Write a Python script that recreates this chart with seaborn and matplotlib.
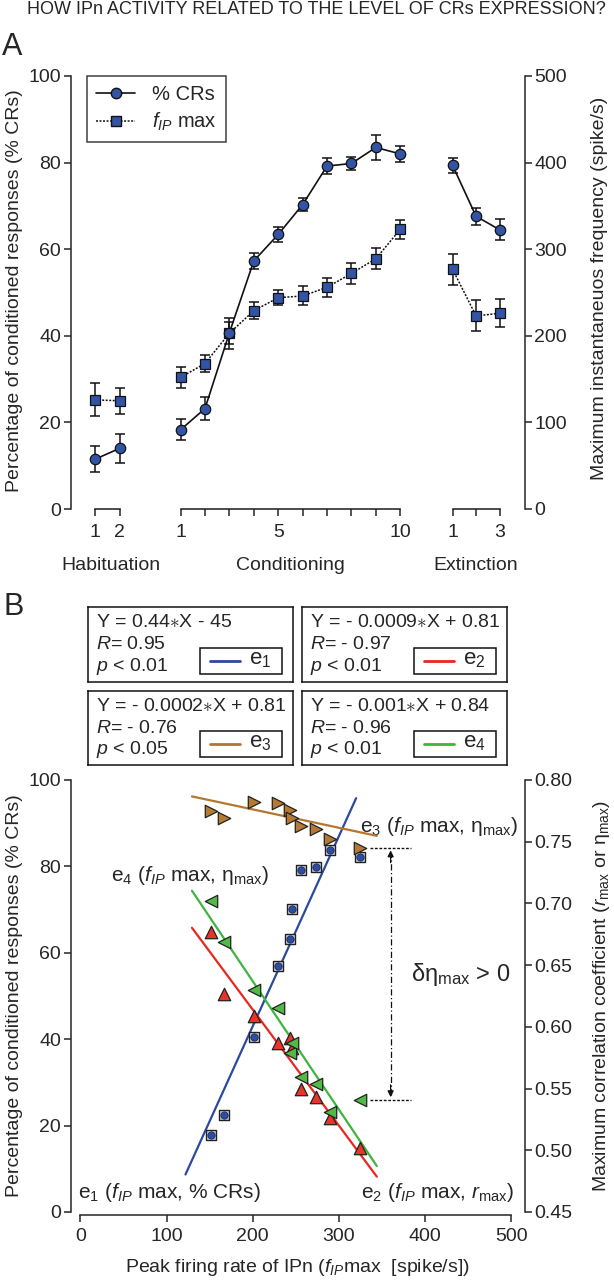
import numpy as np
import pandas as pd
import matplotlib
matplotlib.use('Agg')
import matplotlib.pyplot as plt
import matplotlib.transforms as mtransforms
from matplotlib.patches import Rectangle
from matplotlib.lines import Line2D
import seaborn as sns

sns.set_theme(style='ticks')
plt.rcParams['font.family'] = ['Liberation Sans', 'DejaVu Sans']
plt.rcParams['mathtext.fontset'] = 'custom'
plt.rcParams['mathtext.rm'] = 'Liberation Sans'
plt.rcParams['mathtext.it'] = 'Liberation Sans:italic'
plt.rcParams['mathtext.bf'] = 'Liberation Sans:bold'
plt.rcParams['mathtext.fallback'] = 'cm'
plt.rcParams['axes.linewidth'] = 1.1

# ---------------- Panel A data ----------------
hab_sessions = [1, 2]
cond_sessions = [1, 2, 3, 4, 5, 6, 7, 8, 9, 10]
ext_sessions = [1, 2, 3]

hab_cr = [11.5, 14.0]
hab_cr_err = [3.0, 3.4]
cond_cr = [18.3, 23.2, 40.7, 57.3, 63.4, 70.3, 79.2, 79.8, 83.5, 82.0]
cond_cr_err = [2.4, 2.7, 2.5, 1.9, 1.7, 1.5, 1.8, 1.5, 2.8, 1.8]
ext_cr = [79.4, 67.6, 64.5]
ext_cr_err = [1.7, 2.0, 2.4]

hab_fip = [126, 125]
hab_fip_err = [19, 15]
cond_fip = [152, 168, 203, 229, 244, 246, 256, 272, 289, 323]
cond_fip_err = [12, 10, 18, 10, 9, 11, 11, 12, 12, 11]
ext_fip = [277, 223, 226]
ext_fip_err = [18, 18, 16]

group_names = ['Habituation', 'Conditioning', 'Extinction']
hab_ticklabels = ['1', '2']
cond_ticklabels = ['1', '', '', '', '5', '', '', '', '', '10']
ext_ticklabels = ['1', '', '3']

# ---------------- Panel B data ----------------
b_fip = [152, 167, 201, 229, 243, 245, 256, 273, 290, 324]
b_cr = [17.8, 22.5, 40.5, 56.9, 63.2, 70.1, 79.1, 79.8, 83.7, 82.1]
b_rmax = [0.677, 0.627, 0.609, 0.587, 0.591, 0.583, 0.550, 0.543, 0.526, 0.502]
b_eta_e4 = [0.702, 0.669, 0.630, 0.615, 0.579, 0.587, 0.559, 0.554, 0.531, 0.541]
b_eta_e3 = [0.775, 0.769, 0.782, 0.781, 0.776, 0.769, 0.763, 0.760, 0.752, 0.745]

# regression lines (slope, intercept, x-range) as drawn
fit_names = ['e1', 'e2', 'e3', 'e4']
fit_slope = [0.44, -0.00094, -0.000149, -0.00104]
fit_icept = [-45.0, 0.802, 0.806, 0.845]
fit_xmin = [122, 129.5, 129.5, 129.5]
fit_xmax = [320, 344, 344, 344]

eq_lines = [
    ['Y = 0.44$\\ast$X - 45', '$\\mathit{R}$= 0.95', '$\\mathit{p}$ < 0.01'],
    ['Y = - 0.0009$\\ast$X + 0.81', '$\\mathit{R}$= - 0.97', '$\\mathit{p}$ < 0.01'],
    ['Y = - 0.0002$\\ast$X + 0.81', '$\\mathit{R}$= - 0.76', '$\\mathit{p}$ < 0.05'],
    ['Y = - 0.001$\\ast$X + 0.84', '$\\mathit{R}$= - 0.96', '$\\mathit{p}$ < 0.01'],
]
eq_labels = ['e$_1$', 'e$_2$', 'e$_3$', 'e$_4$']

BLUE = '#3353a5'
BLUE2 = '#2c4da0'
RED = '#e8342a'
GREEN = '#52b947'
BROWN = '#b47a34'
LRED = '#e8281e'
LGREEN = '#3fb43f'
LBROWN = '#b5762e'
LBLUE = '#2b4a9e'
line_colors = [LBLUE, LRED, LBROWN, LGREEN]

W, H = 614, 1280
fig = plt.figure(figsize=(W / 100, H / 100), dpi=100)


def fpos(x0, y0, x1, y1):
    return [x0 / W, 1 - y1 / H, (x1 - x0) / W, (y1 - y0) / H]


FS = 14       # ticks / axis labels
FT = 15       # annotations
FE = 14       # equation boxes
TL = 5.2      # tick length (pt)
MS_C = 7.5    # circle marker size panel A
MS_S = 7.6    # square marker size panel A

fig.text(316 / W, 1 - 9.5 / H, 'HOW IPn ACTIVITY RELATED TO THE LEVEL OF CRs EXPRESSION?',
         ha='center', va='center', fontsize=13)
fig.text(2 / W, 1 - 47 / H, 'A', ha='left', va='center', fontsize=22)
fig.text(3 / W, 1 - 607 / H, 'B', ha='left', va='center', fontsize=22)

# ================= Panel A =================
axA = fig.add_axes(fpos(70.5, 76, 525, 509))
axA2 = axA.twinx()
axA.set_zorder(axA2.get_zorder() + 1)
axA.patch.set_visible(False)

hab_x = np.array(hab_sessions) - 1.0
cond_x = 3.5 + (np.array(cond_sessions) - 1.0)
ext_x = 14.64 + (np.array(ext_sessions) - 1.0) * 0.965

groups = [
    (hab_x, hab_cr, hab_cr_err, hab_fip, hab_fip_err),
    (cond_x, cond_cr, cond_cr_err, cond_fip, cond_fip_err),
    (ext_x, ext_cr, ext_cr_err, ext_fip, ext_fip_err),
]

for gx, cr, cre, fp, fpe in groups:
    axA2.errorbar(gx, fp, yerr=fpe, fmt='none', ecolor='#111111', elinewidth=1.1,
                  capsize=3.8, capthick=1.1, zorder=2)
    sns.lineplot(x=gx, y=fp, ax=axA2, color='#111111', linestyle=(0, (1.3, 1.0)), lw=1.1,
                 marker='s', markersize=MS_S, markerfacecolor=BLUE, markeredgecolor='#111111',
                 markeredgewidth=0.9, zorder=3)
    axA.errorbar(gx, cr, yerr=cre, fmt='none', ecolor='#111111', elinewidth=1.1,
                 capsize=3.8, capthick=1.1, zorder=2)
    sns.lineplot(x=gx, y=cr, ax=axA, color='#111111', linestyle='-', lw=1.2,
                 marker='o', markersize=MS_C, markerfacecolor=BLUE, markeredgecolor='#111111',
                 markeredgewidth=0.9, zorder=3)

xlimA = (-1.01, 17.61)
axA.set_xlim(*xlimA)
axA2.set_xlim(*xlimA)
axA.set_ylim(0, 100)
axA2.set_ylim(0, 500)

all_x = np.concatenate([hab_x, cond_x, ext_x])
all_lab = hab_ticklabels + cond_ticklabels + ext_ticklabels
axA.set_xticks(all_x)
axA.set_xticklabels(all_lab)
axA.set_yticks([0, 20, 40, 60, 80, 100])
axA2.set_yticks([0, 100, 200, 300, 400, 500])
for sp in ['top', 'bottom']:
    axA.spines[sp].set_visible(False)
    axA2.spines[sp].set_visible(False)
axA.spines['right'].set_visible(False)
axA2.spines['left'].set_visible(False)
axA2.spines['right'].set_linewidth(1.1)
axA.tick_params(axis='y', direction='out', length=TL, width=1.1, pad=1.5, labelsize=FS)
axA.tick_params(axis='x', direction='out', length=TL, width=1.1, pad=5.5, labelsize=FS)
axA2.tick_params(axis='y', direction='out', length=TL, width=1.1, pad=1.5, labelsize=FS)
axA2.tick_params(axis='x', bottom=False, labelbottom=False)

# group brackets
for gx in [hab_x, cond_x, ext_x]:
    axA.plot([gx[0], gx[-1]], [0, 0], color='k', lw=1.1, clip_on=False, zorder=5,
             solid_capstyle='projecting')

trA = mtransforms.blended_transform_factory(axA.transData, axA.transAxes)
for gx, name in zip([hab_x, cond_x, ext_x], group_names):
    axA.text(gx.mean() + (0.15 if name == 'Habituation' else 0), -0.131, name,
             transform=trA, ha='center', va='center', fontsize=FS)

# y labels: left anchor = right edge of text, right anchor = left edge of text
axA.set_ylabel('Percentage of conditioned responses (% CRs)', fontsize=FS)
axA.yaxis.set_label_coords((23 - 70.5) / 454.5, 0.505)
axA2.set_ylabel('Maximum instantaneuos frequency (spike/s)', fontsize=FS)
axA2.yaxis.set_label_coords((591 - 70.5) / 454.5, 0.51)

legA_handles = [
    Line2D([0], [0], color='#111111', lw=1.2, marker='o', markersize=MS_C,
           markerfacecolor=BLUE, markeredgecolor='#111111'),
    Line2D([0], [0], color='#111111', lw=1.1, linestyle=(0, (1.3, 1.0)), marker='s',
           markersize=MS_S, markerfacecolor=BLUE, markeredgecolor='#111111'),
]
legA = axA.legend(legA_handles, ['% CRs', '$f_{IP}$ max'], loc='upper left',
                  bbox_to_anchor=((87 - 70.5) / 454.5, 1.0), borderaxespad=0,
                  frameon=True, fancybox=False, edgecolor='#111111', fontsize=FS + 0.5,
                  handlelength=1.95, handletextpad=0.85, borderpad=0.45, labelspacing=0.35)
legA.get_frame().set_linewidth(1.1)

# ================= Equation boxes =================
box_px = [(88, 607, 293, 682), (302, 607, 507, 682), (88, 691, 293, 765), (302, 691, 507, 765)]
for i, (x0, y0, x1, y1) in enumerate(box_px):
    bx = fig.add_axes(fpos(x0, y0, x1, y1))
    bx.set_xticks([])
    bx.set_yticks([])
    bx.set_xlim(0, 1)
    bx.set_ylim(0, 1)
    for sp in bx.spines.values():
        sp.set_visible(True)
        sp.set_linewidth(1.1)
        sp.set_color('#111111')
    for t, yy in zip(eq_lines[i], [0.79, 0.495, 0.21]):
        bx.text(0.04, yy, t, ha='left', va='center', fontsize=FE)
    bx.add_patch(Rectangle((0.548, 0.107), 0.398, 0.346, fill=False, lw=1.1,
                           edgecolor='#111111', transform=bx.transAxes))
    bx.plot([0.595, 0.74], [0.28, 0.28], color=line_colors[i], lw=2.0)
    bx.text(0.785, 0.30, eq_labels[i], ha='left', va='center', fontsize=FE + 2)

# ================= Panel B =================
axB = fig.add_axes(fpos(70.5, 780, 525, 1212))
axB2 = axB.twinx()

xlimB = (-11.4, 515.9)
axB.set_xlim(*xlimB)
axB2.set_xlim(*xlimB)
axB.set_ylim(0, 100)
axB2.set_ylim(0.45, 0.80)

# fits
for k in range(4):
    xs = np.array([fit_xmin[k], fit_xmax[k]])
    ys = fit_slope[k] * xs + fit_icept[k]
    target = axB if k == 0 else axB2
    sns.lineplot(x=xs, y=ys, ax=target, color=line_colors[k], lw=1.6, zorder=2)

dfB = pd.DataFrame({'fip': b_fip, 'cr': b_cr, 'rmax': b_rmax,
                    'eta4': b_eta_e4, 'eta3': b_eta_e3})

sns.scatterplot(data=dfB, x='fip', y='cr', ax=axB, marker='s', s=62, color='#d4d4d4',
                edgecolor='#222222', linewidth=1.0, zorder=3)
sns.scatterplot(data=dfB, x='fip', y='cr', ax=axB, marker='o', s=28, color=BLUE2,
                edgecolor='#1a2a60', linewidth=0.6, zorder=4)
sns.scatterplot(data=dfB, x='fip', y='eta3', ax=axB2, marker='>', s=80, color=BROWN,
                edgecolor='#222222', linewidth=0.9, zorder=3)
sns.scatterplot(data=dfB, x='fip', y='rmax', ax=axB2, marker='^', s=80, color=RED,
                edgecolor='#222222', linewidth=0.9, zorder=3)
sns.scatterplot(data=dfB, x='fip', y='eta4', ax=axB2, marker='<', s=80, color=GREEN,
                edgecolor='#222222', linewidth=0.9, zorder=4)

# delta eta annotation
x_arrow = 360
axB2.hlines([b_eta_e3[-1], b_eta_e4[-1]], 336, 384, colors='#111111', lw=1.0,
            linestyles=[(0, (2.0, 1.2))])
axB2.plot([x_arrow, x_arrow], [b_eta_e4[-1] + 0.004, b_eta_e3[-1] - 0.004], color='#111111',
          lw=0.9, linestyle=(0, (5, 2, 1, 2)))
axB2.annotate('', xy=(x_arrow, b_eta_e3[-1] - 0.002), xytext=(x_arrow, b_eta_e3[-1] - 0.012),
              arrowprops=dict(arrowstyle='-|>', color='#111111', lw=0.9,
                              mutation_scale=9, shrinkA=0, shrinkB=0))
axB2.annotate('', xy=(x_arrow, b_eta_e4[-1] + 0.002), xytext=(x_arrow, b_eta_e4[-1] + 0.012),
              arrowprops=dict(arrowstyle='-|>', color='#111111', lw=0.9,
                              mutation_scale=9, shrinkA=0, shrinkB=0))
axB.text(384, 54.9, '\u03b4\u03b7$_{\\mathregular{max}}$ > 0', ha='left', va='center',
         fontsize=FT + 2)

axB.text(324, 89.2, 'e$_3$ ($f_{IP}$ max, \u03b7$_{\\mathregular{max}}$)', ha='left',
         va='center', fontsize=FT)
axB.text(36, 78, 'e$_4$ ($f_{IP}$ max, \u03b7$_{\\mathregular{max}}$)', ha='left',
         va='center', fontsize=FT)
axB.text(-2.6, 4.4, 'e$_1$ ($f_{IP}$ max, % CRs)', ha='left', va='center', fontsize=FT)
axB.text(503, 4.4, 'e$_2$ ($f_{IP}$ max, $r_{\\mathregular{max}}$)', ha='right',
         va='center', fontsize=FT)

axB.set_xticks([0, 100, 200, 300, 400, 500])
axB.set_yticks([0, 20, 40, 60, 80, 100])
axB2.set_yticks([0.45, 0.50, 0.55, 0.60, 0.65, 0.70, 0.75, 0.80])
axB2.set_yticklabels(['%.2f' % v for v in [0.45, 0.50, 0.55, 0.60, 0.65, 0.70, 0.75, 0.80]])
axB.spines['top'].set_visible(False)
axB2.spines['top'].set_visible(False)
axB.spines['right'].set_visible(False)
axB2.spines['left'].set_visible(False)
axB2.spines['bottom'].set_visible(False)
axB.spines['bottom'].set_position(('outward', 2.2))
axB.spines['bottom'].set_bounds(0, 500)
axB.tick_params(axis='y', direction='out', length=TL, width=1.1, pad=1.5, labelsize=FS)
axB.tick_params(axis='x', direction='out', length=TL, width=1.1, pad=4, labelsize=FS)
axB2.tick_params(axis='y', direction='out', length=TL, width=1.1, pad=1.5, labelsize=FS)

axB.set_xlabel('Peak firing rate of IPn ($f_{IP}$max  [spike/s])', fontsize=FS)
axB.xaxis.set_label_coords(0.5, -(1257 - 1212) / 432)
axB.set_ylabel('Percentage of conditioned responses (% CRs)', fontsize=FS)
axB.yaxis.set_label_coords((23 - 70.5) / 454.5, 0.5)
axB2.set_ylabel('Maximum correlation coefficient ($r_{\\mathregular{max}}$ or '
                '\u03b7$_{\\mathregular{max}}$)', fontsize=FS)
axB2.yaxis.set_label_coords((591 - 70.5) / 454.5, 0.5)

fig.savefig('out.png', dpi=100)
